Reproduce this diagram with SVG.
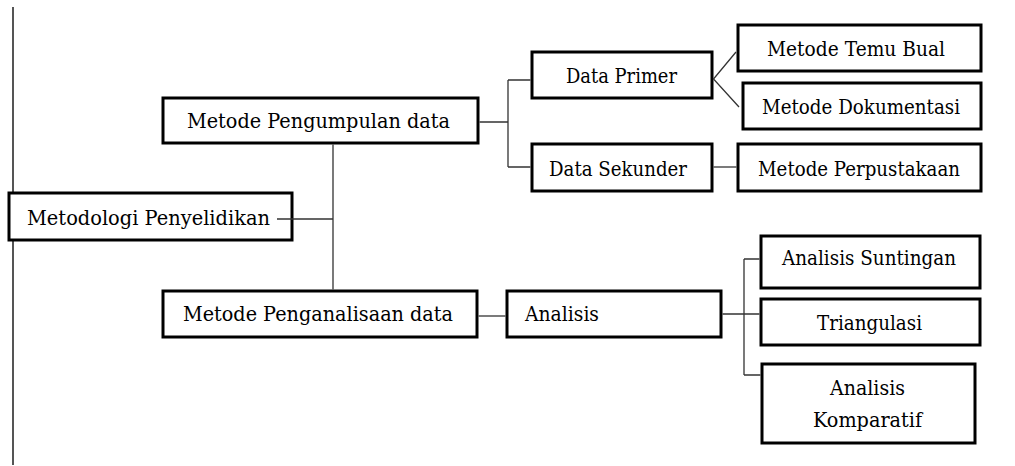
<svg xmlns="http://www.w3.org/2000/svg" width="1015" height="466" viewBox="0 0 1015 466">
<style>
.box{fill:#fff;stroke:#000;stroke-width:3}
.ln{stroke:#333;stroke-width:1.3;fill:none}
</style>
<rect width="1015" height="466" fill="#fff"/>
<line x1="13" y1="7" x2="13" y2="465" stroke="#555" stroke-width="2"/>
<g font-family="'DejaVu Serif', serif" font-size="21" fill="#000">
<g id="n-root"><rect class="box" x="9" y="193" width="283" height="47"/><text x="27" y="225" textLength="243" lengthAdjust="spacingAndGlyphs">Metodologi Penyelidikan</text></g>
<g id="n-pengumpulan"><rect class="box" x="163" y="98" width="315" height="45"/><text x="187" y="128" textLength="263" lengthAdjust="spacingAndGlyphs">Metode Pengumpulan data</text></g>
<g id="n-penganalisaan"><rect class="box" x="163" y="291" width="314" height="46"/><text x="183" y="321" textLength="270" lengthAdjust="spacingAndGlyphs">Metode Penganalisaan data</text></g>
<g id="n-primer"><rect class="box" x="532" y="52" width="180" height="46"/><text x="566" y="83" textLength="111" lengthAdjust="spacingAndGlyphs">Data Primer</text></g>
<g id="n-sekunder"><rect class="box" x="532" y="144" width="180" height="47"/><text x="549" y="176" textLength="138" lengthAdjust="spacingAndGlyphs">Data Sekunder</text></g>
<g id="n-temubual"><rect class="box" x="738" y="25" width="243" height="46"/><text x="767" y="56" textLength="178" lengthAdjust="spacingAndGlyphs">Metode Temu Bual</text></g>
<g id="n-dokumentasi"><rect class="box" x="743" y="83" width="238" height="46"/><text x="762" y="114" textLength="198" lengthAdjust="spacingAndGlyphs">Metode Dokumentasi</text></g>
<g id="n-perpustakaan"><rect class="box" x="738" y="144" width="243" height="47"/><text x="758" y="176" textLength="202" lengthAdjust="spacingAndGlyphs">Metode Perpustakaan</text></g>
<g id="n-analisis"><rect class="box" x="507" y="291" width="214" height="46"/><text x="525" y="321" textLength="74" lengthAdjust="spacingAndGlyphs">Analisis</text></g>
<g id="n-suntingan"><rect class="box" x="761" y="236" width="219" height="52"/><text x="782" y="265" textLength="174" lengthAdjust="spacingAndGlyphs">Analisis Suntingan</text></g>
<g id="n-triangulasi"><rect class="box" x="761" y="299" width="219" height="46"/><text x="817" y="330" textLength="105" lengthAdjust="spacingAndGlyphs">Triangulasi</text></g>
<g id="n-komparatif"><rect class="box" x="762" y="364" width="213" height="79"/><text x="830" y="395" textLength="75" lengthAdjust="spacingAndGlyphs">Analisis</text><text x="813" y="427" textLength="109" lengthAdjust="spacingAndGlyphs">Komparatif</text></g>
</g>
<g id="connectors">
<path class="ln" d="M277 219H333M333 144.5V289.5"/>
<path class="ln" d="M479.5 122H508M508 80V167M508 80H530.5M508 167H530.5"/>
<path class="ln" d="M736 52L713.5 79L739 107"/>
<path class="ln" d="M713.5 167H736.5"/>
<path class="ln" d="M478.5 316H505.5"/>
<path class="ln" d="M722.5 314H759.5M744 259V375M744 259H759.5M744 375H760.5"/>
</g>
</svg>
